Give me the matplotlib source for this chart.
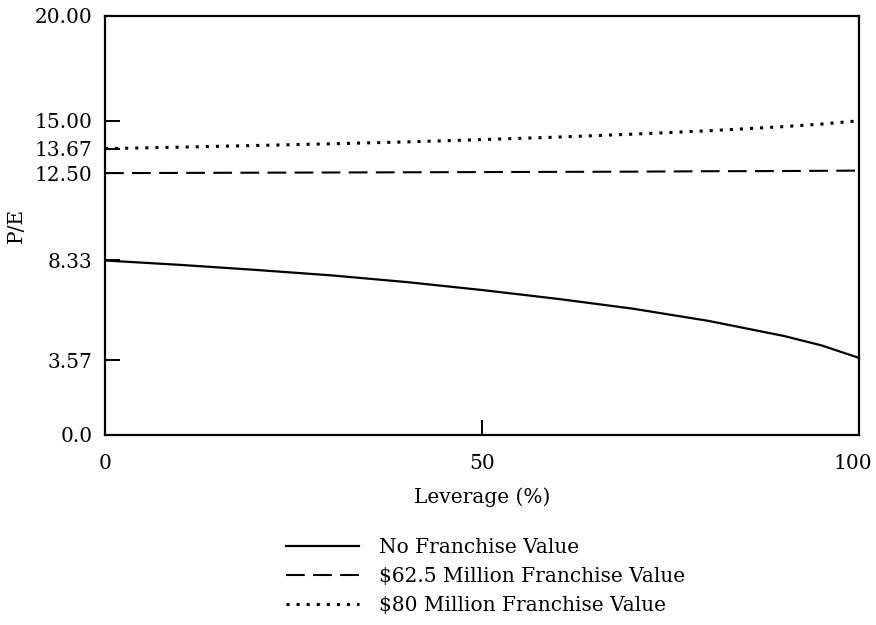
import numpy as np
from matplotlib import pyplot as plt
from matplotlib.transforms import ScaledTranslation

# Leverage (%) and P/E
leverage = [0, 10, 20, 30, 40, 50, 60, 70, 80, 90, 95, 100]
pe_no_fv = [8.33, 8.12, 7.88, 7.62, 7.30, 6.92, 6.50, 6.03, 5.45, 4.73, 4.28, 3.68]
pe_fv_62 = [12.50, 12.51, 12.52, 12.53, 12.54, 12.55, 12.56, 12.57, 12.59, 12.60, 12.61, 12.62]
pe_fv_80 = [13.67, 13.74, 13.82, 13.90, 13.99, 14.10, 14.22, 14.36, 14.52, 14.72, 14.84, 15.00]

y_ticks = [0.0, 3.57, 8.33, 12.50, 13.67, 15.00, 20.00]
y_labels = ['0.0', '3.57', '8.33', '12.50', '13.67', '15.00', '20.00']
x_ticks = [0, 50, 100]

labels = ['No Franchise Value', '$62.5 Million Franchise Value', '$80 Million Franchise Value']

plt.rcParams['font.family'] = ['DejaVu Serif']
plt.rcParams['font.size'] = 14.5

fig = plt.figure(figsize=(8.76, 6.25), dpi=100)
ax = fig.add_axes([105 / 876, 1 - 435 / 625, (859 - 105) / 876, (435 - 16) / 625])

ax.plot(leverage, pe_no_fv, color='black', lw=1.6, label=labels[0])
ax.plot(leverage, pe_fv_62, color='black', lw=1.5, linestyle=(0, (9, 4)), label=labels[1])
ax.plot(leverage, pe_fv_80, color='black', lw=2.2, linestyle=(0, (1, 2.3)), label=labels[2])

ax.set_xlim(0, 100)
ax.set_ylim(0, 20)
ax.set_xticks(x_ticks)
ax.set_yticks(y_ticks)
ax.set_yticklabels(y_labels)
ax.tick_params(direction='in', length=11, width=1.4, pad=9)
ax.tick_params(axis='x', pad=14)
for s in ax.spines.values():
    s.set_linewidth(1.6)

# keep "100" inside the figure, as in the original
last = ax.get_xticklabels()[-1]
last.set_transform(last.get_transform() + ScaledTranslation(-6 / 100, 0, fig.dpi_scale_trans))

ax.set_xlabel('Leverage (%)', labelpad=10)
ax.set_ylabel('P/E', labelpad=6)

ax.legend(loc='upper left', bbox_to_anchor=(286 / 876, 1 - 538 / 625),
          bbox_transform=fig.transFigure, frameon=False, borderpad=0,
          borderaxespad=0, handlelength=3.6, handletextpad=1.0, labelspacing=0.5)

fig.savefig('out.png', dpi=100)
